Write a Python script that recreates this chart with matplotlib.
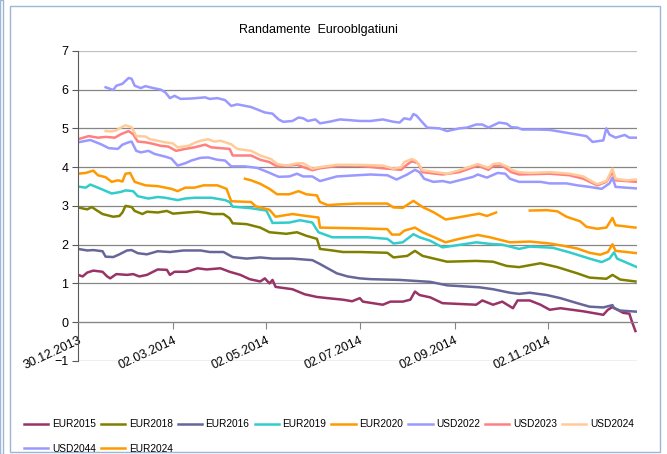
import numpy as np
import pandas as pd
import matplotlib
matplotlib.use("Agg")
import matplotlib.pyplot as plt
from matplotlib.patches import Rectangle

plt.rcParams['font.family'] = ['Liberation Sans', 'DejaVu Sans']

start_date = pd.Timestamp("2013-12-30")
nan = np.nan

# days after 30.12.2013 and yields (%)
eur2015_days = [0, 3, 6, 10, 16, 19, 21, 25, 32, 36, 40, 45, 52, 58, 60, 63, 71, 78, 84, 93,
                99, 106, 112, 119, 122, 125, 127, 129, 140, 148, 156, 163, 173, 179, 184, 186, 199, 204, 212, 217,
                220, 223, 230, 238, 260, 264, 271, 277, 284, 287, 295, 302, 308, 315, 330, 343, 346, 349, 356, 360,
                362, 364]
eur2015_vals = [1.22, 1.18, 1.28, 1.33, 1.30, 1.18, 1.13, 1.24, 1.22, 1.24, 1.18, 1.22, 1.36, 1.35, 1.22, 1.30, 1.30, 1.39, 1.36, 1.39,
                1.30, 1.22, 1.11, 1.05, 1.13, 1.00, 1.09, 0.91, 0.85, 0.72, 0.65, 0.62, 0.58, 0.54, 0.62, 0.53, 0.45, 0.53, 0.53, 0.58,
                0.79, 0.70, 0.64, 0.49, 0.45, 0.56, 0.45, 0.53, 0.36, 0.56, 0.56, 0.45, 0.32, 0.36, 0.28, 0.19, 0.32, 0.39, 0.24, 0.22,
                -0.02, -0.23]

eur2018_days = [0, 6, 9, 12, 16, 23, 27, 29, 31, 35, 37, 42, 45, 52, 58, 62, 71, 78, 82, 88,
                95, 99, 101, 110, 119, 125, 136, 143, 149, 156, 158, 166, 173, 184, 202, 206, 215, 220, 225, 241,
                260, 271, 280, 288, 302, 313, 326, 334, 345, 349, 354, 364]
eur2018_vals = [2.96, 2.91, 2.97, 2.89, 2.79, 2.72, 2.74, 2.83, 3.00, 2.97, 2.87, 2.79, 2.85, 2.83, 2.87, 2.80, 2.83, 2.85, 2.83, 2.79,
                2.79, 2.68, 2.55, 2.53, 2.44, 2.32, 2.28, 2.32, 2.23, 2.15, 1.89, 1.85, 1.81, 1.81, 1.79, 1.67, 1.71, 1.84, 1.71, 1.56,
                1.58, 1.56, 1.45, 1.42, 1.52, 1.42, 1.26, 1.15, 1.12, 1.22, 1.10, 1.05]

eur2016_days = [0, 6, 10, 16, 18, 23, 27, 32, 35, 39, 45, 52, 60, 69, 80, 86, 95, 101, 110, 119,
                127, 140, 153, 158, 163, 169, 176, 184, 191, 210, 230, 241, 262, 271, 282, 288, 295, 306, 315, 326,
                334, 343, 349, 350, 354, 365]
eur2016_vals = [1.89, 1.85, 1.86, 1.83, 1.69, 1.68, 1.75, 1.85, 1.86, 1.78, 1.75, 1.83, 1.81, 1.85, 1.85, 1.81, 1.81, 1.68, 1.64, 1.67,
                1.64, 1.64, 1.60, 1.50, 1.39, 1.26, 1.18, 1.13, 1.11, 1.09, 1.04, 0.95, 0.90, 0.85, 0.76, 0.73, 0.76, 0.70, 0.62, 0.49,
                0.40, 0.38, 0.44, 0.36, 0.30, 0.27]

eur2019_days = [0, 5, 8, 13, 22, 28, 31, 36, 39, 46, 52, 57, 65, 70, 76, 87, 96, 99, 101, 113,
                123, 127, 138, 145, 153, 157, 166, 189, 202, 206, 212, 219, 223, 230, 238, 245, 260, 269, 277, 288,
                295, 310, 321, 334, 342, 347, 350, 352, 365]
eur2019_vals = [3.50, 3.47, 3.55, 3.47, 3.32, 3.36, 3.40, 3.38, 3.25, 3.19, 3.23, 3.21, 3.15, 3.19, 3.21, 3.21, 3.15, 3.10, 2.98, 2.94,
                2.88, 2.56, 2.57, 2.63, 2.57, 2.32, 2.19, 2.19, 2.15, 2.03, 2.06, 2.27, 2.19, 2.10, 1.93, 1.97, 2.06, 2.02, 2.00, 1.89,
                1.95, 1.92, 1.80, 1.64, 1.55, 1.64, 1.80, 1.64, 1.42]

eur2020_days = [0, 5, 10, 13, 18, 22, 26, 29, 31, 34, 37, 44, 52, 61, 65, 70, 76, 82, 91, 97,
                100, 113, 116, 125, 129, 140, 149, 157, 158, 184, 202, 205, 210, 213, 220, 225, 232, 240, 249, 261,
                269, 282, 295, 308, 317, 326, 334, 341, 346, 349, 351, 365]
eur2020_vals = [3.83, 3.85, 3.91, 3.79, 3.74, 3.62, 3.66, 3.63, 3.83, 3.85, 3.62, 3.53, 3.51, 3.44, 3.38, 3.47, 3.47, 3.53, 3.53, 3.44,
                3.12, 3.10, 2.99, 2.90, 2.72, 2.79, 2.74, 2.70, 2.44, 2.42, 2.40, 2.26, 2.26, 2.36, 2.44, 2.32, 2.20, 2.06, 2.15, 2.25,
                2.19, 2.06, 2.08, 2.03, 1.97, 1.90, 1.79, 1.74, 1.81, 2.01, 1.84, 1.78]

usd2022_days = [0, 8, 15, 20, 26, 29, 33, 35, 38, 41, 46, 50, 57, 61, 63, 65, 70, 74, 80, 85,
                91, 96, 100, 109, 117, 124, 131, 138, 143, 147, 153, 158, 169, 182, 191, 202, 208, 215, 220, 223,
                226, 232, 238, 243, 258, 261, 267, 274, 279, 282, 288, 302, 308, 319, 326, 334, 342, 347, 349, 351,
                365]
usd2022_vals = [4.64, 4.70, 4.59, 4.49, 4.47, 4.58, 4.64, 4.66, 4.42, 4.38, 4.42, 4.34, 4.27, 4.22, 4.13, 4.04, 4.10, 4.17, 4.24, 4.25,
                4.19, 4.17, 4.02, 4.02, 3.98, 3.87, 3.75, 3.76, 3.83, 3.76, 3.76, 3.64, 3.76, 3.79, 3.81, 3.79, 3.68, 3.81, 3.93, 3.87,
                3.70, 3.62, 3.64, 3.60, 3.75, 3.81, 3.73, 3.85, 3.83, 3.70, 3.62, 3.62, 3.58, 3.58, 3.53, 3.49, 3.44, 3.58, 3.73, 3.49,
                3.45]

usd2023_days = [0, 7, 13, 18, 24, 28, 33, 36, 39, 44, 48, 54, 59, 64, 70, 76, 83, 87, 93, 99,
                101, 113, 119, 125, 130, 143, 153, 158, 169, 182, 202, 211, 215, 218, 222, 225, 238, 249, 261, 268,
                271, 277, 283, 288, 308, 321, 330, 339, 345, 349, 351, 365]
usd2023_vals = [4.72, 4.80, 4.76, 4.78, 4.76, 4.85, 4.93, 4.85, 4.66, 4.64, 4.61, 4.55, 4.53, 4.42, 4.47, 4.51, 4.58, 4.51, 4.49, 4.47,
                4.30, 4.30, 4.19, 4.13, 4.02, 4.06, 3.92, 3.97, 4.03, 4.04, 3.96, 3.93, 4.07, 4.15, 4.10, 3.87, 3.81, 3.87, 4.04, 3.93,
                4.03, 4.04, 3.87, 3.81, 3.83, 3.79, 3.70, 3.53, 3.62, 3.87, 3.66, 3.62]

usd2024_days = [18, 22, 25, 28, 31, 35, 38, 44, 47, 52, 57, 62, 65, 72, 77, 80, 85, 89, 93, 100,
                104, 113, 119, 126, 130, 136, 143, 147, 153, 158, 169, 182, 199, 206, 211, 213, 218, 221, 225, 234,
                241, 249, 261, 268, 271, 275, 281, 283, 288, 295, 308, 321, 330, 336, 339, 345, 349, 351, 358, 365]
usd2024_vals = [4.93, 4.92, 4.95, 5.02, 5.08, 5.03, 4.80, 4.79, 4.72, 4.68, 4.64, 4.61, 4.51, 4.55, 4.64, 4.68, 4.72, 4.66, 4.68, 4.59,
                4.47, 4.42, 4.30, 4.21, 4.08, 4.04, 4.10, 4.10, 3.96, 4.00, 4.06, 4.06, 4.04, 3.96, 4.00, 4.13, 4.21, 4.15, 3.92, 3.87,
                3.83, 3.92, 4.08, 3.98, 4.08, 4.10, 4.00, 3.93, 3.87, 3.85, 3.87, 3.83, 3.76, 3.62, 3.56, 3.64, 3.96, 3.70, 3.66, 3.68]

usd2044_days = [18, 23, 25, 29, 33, 35, 37, 41, 44, 49, 54, 57, 60, 63, 67, 74, 83, 86, 91, 96,
                100, 104, 113, 122, 127, 131, 134, 140, 144, 147, 150, 155, 158, 164, 171, 178, 184, 191, 199, 206,
                210, 213, 217, 219, 221, 225, 228, 236, 241, 249, 254, 260, 264, 268, 275, 280, 283, 287, 290, 300,
                308, 317, 326, 332, 336, 343, 345, 347, 351, 357, 360, 365]
usd2044_vals = [6.06, 5.99, 6.10, 6.15, 6.30, 6.28, 6.10, 6.04, 6.09, 6.04, 6.00, 5.93, 5.78, 5.84, 5.76, 5.77, 5.80, 5.76, 5.78, 5.73,
                5.58, 5.62, 5.55, 5.41, 5.38, 5.23, 5.17, 5.19, 5.28, 5.26, 5.19, 5.23, 5.13, 5.17, 5.23, 5.21, 5.19, 5.19, 5.23, 5.17,
                5.15, 5.26, 5.23, 5.37, 5.33, 5.15, 5.02, 5.00, 4.93, 5.00, 5.02, 5.10, 5.10, 5.02, 5.15, 5.12, 5.03, 5.02, 4.97, 4.97,
                4.96, 4.90, 4.84, 4.80, 4.65, 4.69, 5.00, 4.84, 4.76, 4.83, 4.76, 4.76]

eur2024_days = [109, 113, 119, 125, 130, 138, 144, 149, 156, 158, 163, 171, 182, 202, 206, 212, 219, 225, 232, 240,
                245, 262, 267, 273, 284, 295, 306, 313, 319, 328, 332, 339, 345, 349, 351, 364]
eur2024_vals = [3.70, 3.66, 3.57, 3.44, 3.30, 3.30, 3.38, 3.30, 3.27, 3.10, 3.02, 3.04, 3.06, 3.06, 2.96, 2.95, 3.13, 2.97, 2.84, 2.65,
                2.68, 2.80, 2.74, 2.83, nan, 2.88, 2.89, 2.86, 2.72, 2.60, 2.46, 2.41, 2.44, 2.69, 2.50, 2.44]

series_names = ["EUR2015", "EUR2018", "EUR2016", "EUR2019", "EUR2020",
                "USD2022", "USD2023", "USD2024", "USD2044", "EUR2024"]
series_days = [eur2015_days, eur2018_days, eur2016_days, eur2019_days, eur2020_days,
               usd2022_days, usd2023_days, usd2024_days, usd2044_days, eur2024_days]
series_vals = [eur2015_vals, eur2018_vals, eur2016_vals, eur2019_vals, eur2020_vals,
               usd2022_vals, usd2023_vals, usd2024_vals, usd2044_vals, eur2024_vals]
series_colors = ["#993366", "#808000", "#666699", "#33CCCC", "#FF9900",
                 "#9999FF", "#FF8080", "#FFCC99", "#9999FF", "#FF9900"]

tick_labels = ["30.12.2013", "02.03.2014", "02.05.2014", "02.07.2014", "02.09.2014", "02.11.2014"]

fig = plt.figure(figsize=(6.67, 4.54), dpi=100)
ax = fig.add_axes([0.117, 0.205, 0.838, 0.683])

# outer chart border
fig.patches.append(Rectangle((0.015, 0.004), 0.975, 0.982, transform=fig.transFigure,
                             fill=False, edgecolor="#9DB5D6", linewidth=1.0))
fig.patches.append(Rectangle((0.0, 0.0), 0.004, 1.0, transform=fig.transFigure,
                             fill=False, edgecolor="#9DB5D6", linewidth=1.0))

handles = []
for name, days, vals, col in zip(series_names, series_days, series_vals, series_colors):
    dates = start_date + pd.to_timedelta(days, unit="D")
    ln, = ax.plot(dates, vals, color=col, linewidth=1.8, label=name, solid_joinstyle="round")
    handles.append(ln)

# spine position first: moving it resets the ticks
for side in ["top", "right"]:
    ax.spines[side].set_visible(False)
ax.spines["bottom"].set_position(("data", 0))
ax.spines["bottom"].set_color("#868686")
ax.spines["left"].set_color("#5A5A5A")
ax.spines["left"].set_linewidth(0.8)

ax.set_ylim(-1, 7)
ax.set_xlim(start_date, start_date + pd.Timedelta(days=365))
ax.set_yticks(range(-1, 8))
for v in range(-1, 7):
    ax.axhline(v, color="#868686", linewidth=0.9, zorder=0)
ax.axhline(7, color="#BEBEBE", linewidth=1.6, zorder=0)

tick_dates = [pd.to_datetime(t, format="%d.%m.%Y") for t in tick_labels]
ax.set_xticks(tick_dates)
ax.set_xticklabels(tick_labels, rotation=25, ha="right", rotation_mode="anchor")

ax.tick_params(axis="x", direction="out", length=5, color="#868686", labelsize=9, pad=4)
ax.tick_params(axis="y", direction="out", length=4, color="#5A5A5A", labelsize=9, pad=3)

fig.text(0.477, 0.934, "Randamente  Eurooblgatiuni", ha="center", va="center", fontsize=9)

# reorder so the legend fills row by row
order = [0, 8, 1, 9, 2, 3, 4, 5, 6, 7]
fig.legend([handles[i] for i in order], [series_names[i] for i in order],
           loc="center", bbox_to_anchor=(0.493, 0.0385), ncol=8, frameon=False,
           fontsize=7.3, handlelength=2.4, handletextpad=0.35, columnspacing=0.5,
           labelspacing=1.4)

fig.savefig("out.png", dpi=100)
